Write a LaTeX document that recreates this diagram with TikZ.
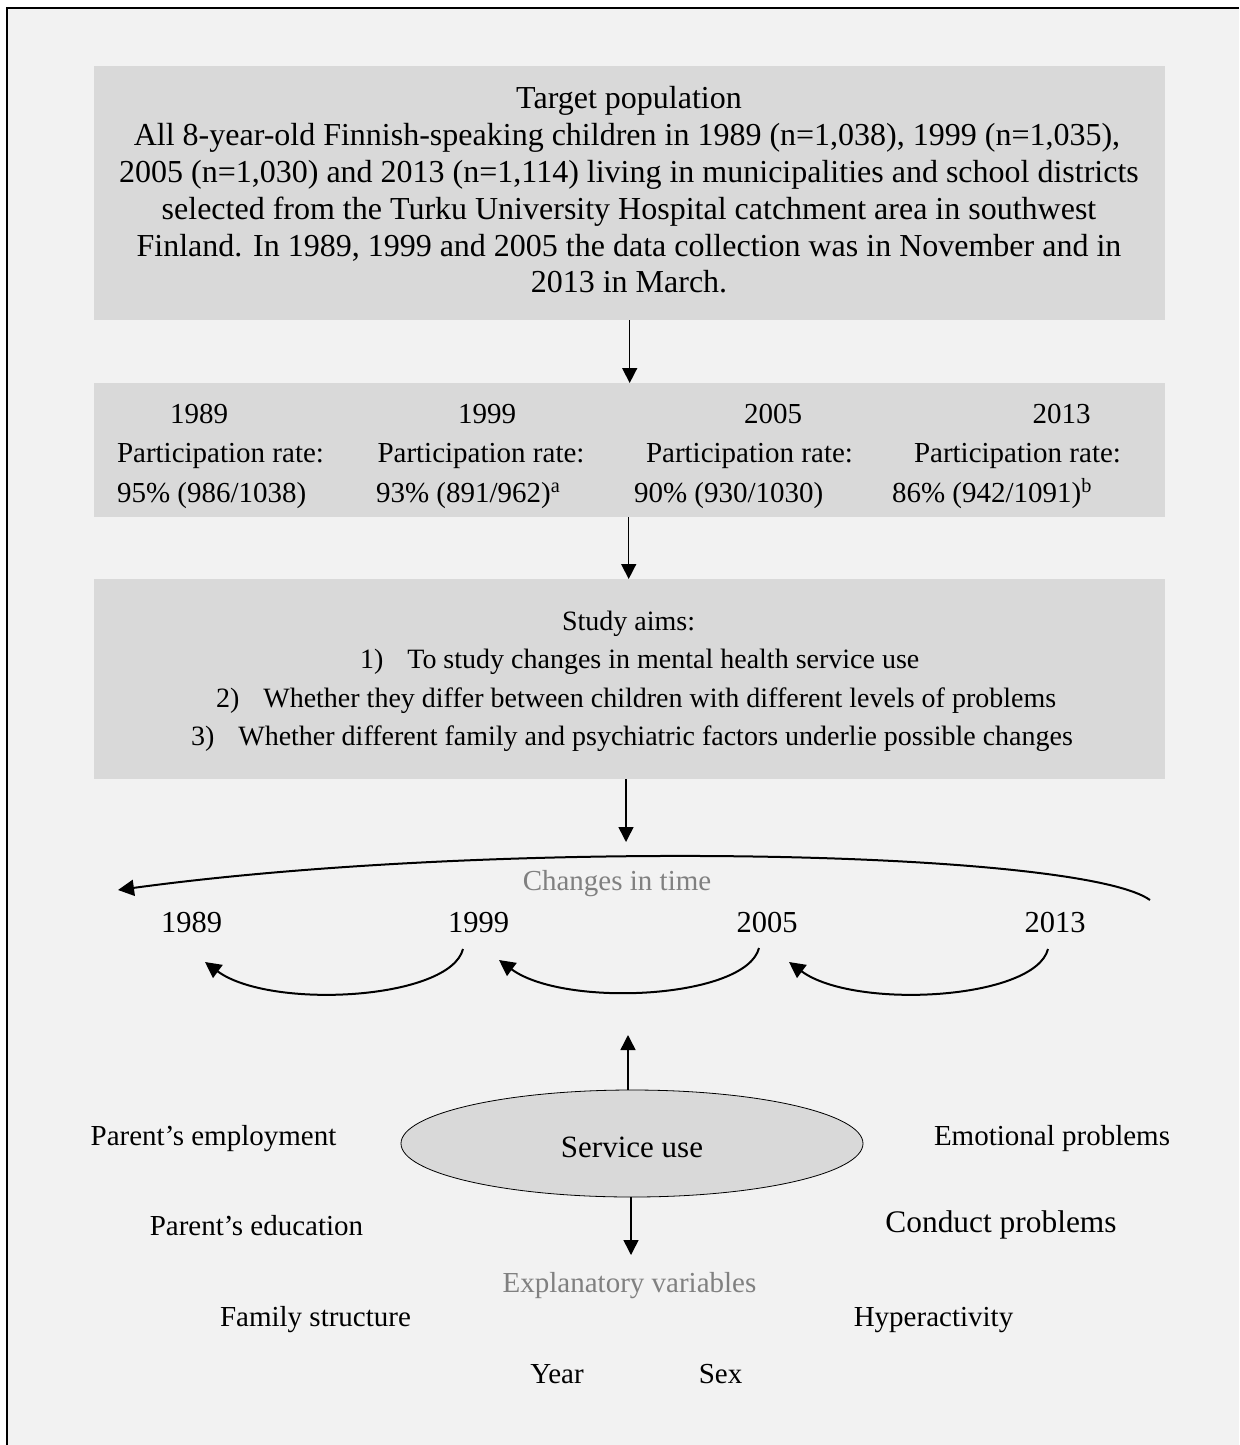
\documentclass[tikz,border=0pt]{standalone}
\usepackage{fontspec}
\setmainfont{Liberation Serif}
\usetikzlibrary{arrows.meta,shapes.geometric}
\definecolor{bgc}{HTML}{F2F2F2}
\definecolor{boxg}{HTML}{D9D9D9}
\definecolor{lblg}{HTML}{808080}
\begin{document}
\begin{tikzpicture}[x=1pt,y=-1pt,
  txt/.style={font=\fontsize{29}{35}\selectfont, inner sep=0pt, outer sep=0pt},
  toptxt/.style={font=\fontsize{32}{37}\selectfont, inner sep=0pt, outer sep=0pt},
  aimtxt/.style={font=\fontsize{28}{34}\selectfont, inner sep=0pt, outer sep=0pt},
  yrtxt/.style={font=\fontsize{30.5}{36}\selectfont, inner sep=0pt, outer sep=0pt},
  bigtxt/.style={font=\fontsize{31}{37}\selectfont, inner sep=0pt, outer sep=0pt},
  cptxt/.style={font=\fontsize{31.4}{37}\selectfont, inner sep=0pt, outer sep=0pt},
  gtxt/.style={txt, text=lblg},
  gbox/.style={fill=boxg, draw=none, inner sep=0pt, minimum width=1071pt, minimum height=#1, anchor=north west},
  arr/.style={line width=1.5pt, -{Triangle[length=15pt,width=15pt]}},
  carr/.style={line width=2pt, -{Triangle[length=16pt,width=16pt]}}]
\useasboundingbox (0,0) rectangle (1239,1445);
\fill[white] (0,0) rectangle (1239,1445);
\fill[bgc] (7,8) rectangle (1239,1445);
\draw[line width=2.5pt] (7,1445) -- (7,8) -- (1239,8);

% boxes
\node[gbox=254pt] (box1) at (94,66) {};
\node[gbox=134pt] (box2) at (94,383) {};
\node[gbox=200pt] (box3) at (94,579) {};

% box 1 text
\node[toptxt, anchor=base] (tp0) at (629,108) {Target population};
\node[toptxt, anchor=base] (tp1) at (627,145) {All 8-year-old Finnish-speaking children in 1989 (n=1,038), 1999 (n=1,035),};
\node[toptxt, anchor=base] (tp2) at (629,182) {2005 (n=1,030) and 2013 (n=1,114) living in municipalities and school districts};
\node[toptxt, anchor=base] (tp3) at (629,219) {selected from the Turku University Hospital catchment area in southwest};
\node[toptxt, anchor=base] (tp4) at (629,256) {Finland. In 1989, 1999 and 2005 the data collection was in November and in};
\node[toptxt, anchor=base] (tp5) at (629,292) {2013 in March.};

% box 2 text
\node[txt, anchor=base west] (c1y) at (170,423) {1989};
\node[txt, anchor=base west] (c1p) at (117,462) {Participation rate:};
\node[txt, anchor=base west] (c1r) at (117,502) {95\% (986/1038)};
\node[txt, anchor=base west] (c2y) at (458,423) {1999};
\node[txt, anchor=base west] (c2p) at (377.5,462) {Participation rate:};
\node[txt, anchor=base west] (c2r) at (376,502) {93\% (891/962)\textsuperscript{a}};
\node[txt, anchor=base west] (c3y) at (744,423) {2005};
\node[txt, anchor=base west] (c3p) at (646,462) {Participation rate:};
\node[txt, anchor=base west] (c3r) at (634,502) {90\% (930/1030)};
\node[txt, anchor=base west] (c4y) at (1032.5,423) {2013};
\node[txt, anchor=base west] (c4p) at (914,462) {Participation rate:};
\node[txt, anchor=base west] (c4r) at (892,502) {86\% (942/1091)\textsuperscript{b}};

% box 3 text
\node[aimtxt, anchor=base west] (sa0) at (562,630) {Study aims:};
\node[aimtxt, anchor=base west] (sa1) at (360,668) {1)\hspace{24pt}To study changes in mental health service use};
\node[aimtxt, anchor=base west] (sa2) at (216,707) {2)\hspace{24pt}Whether they differ between children with different levels of problems};
\node[aimtxt, anchor=base west] (sa3) at (191,745) {3)\hspace{24pt}Whether different family and psychiatric factors underlie possible changes};

% arrows between boxes
\draw[arr] (box1.south) -- (box2.north);
\draw[arr] ([xshift=-1pt]box2.south) -- ([xshift=-1pt]box3.north);
\coordinate (a3) at (626,842);
\draw[arr] (box3.south -| a3) -- (a3);

% changes in time
\node[gtxt, anchor=base] (cit) at (617,890) {Changes in time};
\node[yrtxt, anchor=base] (y1) at (191.5,932) {1989};
\node[yrtxt, anchor=base] (y2) at (478.5,932) {1999};
\node[yrtxt, anchor=base] (y3) at (767,932) {2005};
\node[yrtxt, anchor=base] (y4) at (1055,932) {2013};

\coordinate (bs) at (1150,900);
\coordinate (be) at (118,890);
\draw[carr] (bs) .. controls (1080,850) and (500,838) .. (be);

\coordinate (s1) at (463,949);
\coordinate (e1) at (205,962);
\coordinate (s2) at (759,948);
\coordinate (e2) at (499,960);
\coordinate (s3) at (1048,949);
\coordinate (e3) at (789,962);
\draw[carr] (s1) .. controls +(-13,51) and +(65,48) .. (e1);
\draw[carr] (s2) .. controls +(-13,51) and +(65,48) .. (e2);
\draw[carr] (s3) .. controls +(-13,51) and +(65,48) .. (e3);

% service use
\node[ellipse, draw, fill=boxg, line width=0.8pt, minimum width=462pt, minimum height=107pt, inner sep=0pt] (ell) at (632,1143.5) {};
\node[bigtxt, anchor=base] (su) at (632,1157) {Service use};
\coordinate (uptip) at (628,1035);
\coordinate (dntip) at (631,1255);
\draw[arr] (ell.north -| uptip) -- (uptip);
\draw[arr] (ell.south -| dntip) -- (dntip);

\node[gtxt] (ev) at (629.5,1286) {Explanatory variables};

% explanatory variables
\node[txt] (pem) at (213.5,1139) {Parent’s employment};
\node[txt] (ped) at (256.5,1226) {Parent’s education};
\node[txt] (fam) at (315.5,1320) {Family structure};
\node[txt] (emo) at (1052,1139) {Emotional problems};
\node[cptxt] (con) at (1001,1225) {Conduct problems};
\node[txt] (hyp) at (933.5,1320) {Hyperactivity};
\node[txt] (yr) at (557,1374) {Year};
\node[txt] (sx) at (720.5,1374) {Sex};
\end{tikzpicture}
\end{document}
